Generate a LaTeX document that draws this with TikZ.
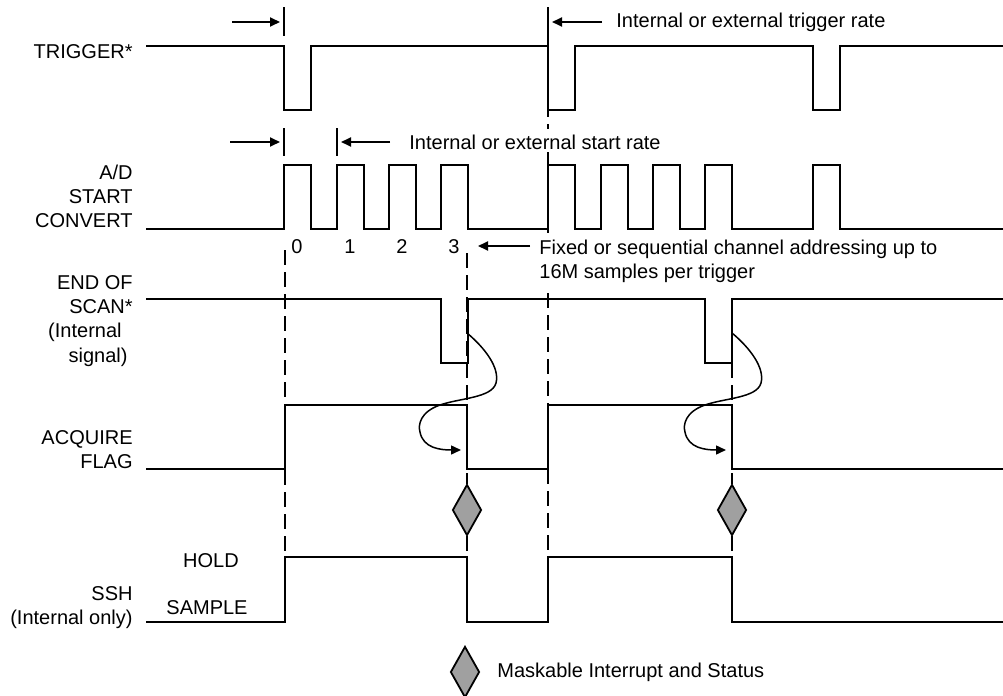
\documentclass[tikz,border=0pt]{standalone}
\usepackage{fontspec}
\setmainfont{Liberation Sans}
\usetikzlibrary{
  arrows.meta,
  shapes.geometric
}
\definecolor{irqGray}{HTML}{A0A0A0}

\begin{document}
\begin{tikzpicture}[x=0.5pt, y=-0.5pt,
  font=\fontsize{10}{12}\selectfont,
  sig/.style={line width=1pt, line join=miter},
  guide/.style={line width=0.75pt, dash pattern=on 7.5pt off 3.5pt},
  tickmark/.style={line width=0.9pt},
  rate/.style={line width=0.9pt, -{Triangle[length=5pt, width=4.5pt]}},
  hook/.style={line width=0.75pt, -{Triangle[length=5pt, width=4.5pt]}},
  irqmark/.style={diamond, draw, line width=0.9pt, fill=irqGray,
    minimum width=14.5pt, minimum height=25.5pt, inner sep=0pt},
  signame/.style={anchor=east, align=right, inner sep=0pt},
  note/.style={anchor=west, align=left, inner sep=0pt}
]
  \useasboundingbox (0,0) rectangle (1003,696);

  %% --- Interrupt markers ---
  \node[irqmark] (irq1) at (467,510) {};
  \node[irqmark] (irq2) at (732,510) {};

  %% --- Dashed guide lines ---
  \draw[guide] (285,250) -- (285,557);
  \draw[guide] (548,36) -- (548,129);
  \draw[guide] (548,152) -- (548,238);
  \draw[guide] (548,293) -- (548,557);
  \draw[guide] (467,253) -- (irq1.north);
  \draw[guide] (irq1.south) -- (467,557);
  \draw[guide] (732,363) -- (irq2.north);
  \draw[guide] (irq2.south) -- (732,557);

  %% --- Signal names ---
  \node[signame] (trg) at (133,52) {TRIGGER*};
  \node[signame] (adc) at (133,196) {A/D\\START\\CONVERT};
  \node[signame] (eos) at (133,295) {END OF\\SCAN*};
  \node[signame] (eosA) at (122,332) {(Internal};
  \node[signame] (eosB) at (128,357) {signal)};
  \node[signame] (acq) at (133,450) {ACQUIRE\\FLAG};
  \node[signame] (ssh) at (133,608) {SSH\\(Internal only)};
  \node (hold) at (211,561) {HOLD};
  \node (sample) at (207,608) {SAMPLE};

  %% --- Waveforms ---
  \draw[sig] (146,46) \foreach \x in {284,548,813} {
      -- (\x,46) -- (\x,110) -- (\x+27,110) -- (\x+27,46) } -- (1003,46);
  \draw[sig] (146,229) \foreach \x in {284,337,389,441,548,601,653,705,813} {
      -- (\x,229) -- (\x,165) -- (\x+27,165) -- (\x+27,229) } -- (1003,229);
  \draw[sig] (146,299) \foreach \x in {441,705} {
      -- (\x,299) -- (\x,363) -- (\x+27,363) -- (\x+27,299) } -- (1003,299);
  \draw[sig] (146,469) -- (285,469) -- (285,405) -- (467,405) -- (467,469)
    -- (548,469) -- (548,405) -- (732,405) -- (732,469) -- (1003,469);
  \draw[sig] (146,622) -- (285,622) -- (285,557) -- (467,557) -- (467,622)
    -- (548,622) -- (548,557) -- (732,557) -- (732,622) -- (1003,622);

  %% --- Rate markers ---
  \draw[tickmark] (284,7) -- (284,36);
  \draw[tickmark] (548,7) -- (548,46);
  \draw[tickmark] (284,128) -- (284,156);
  \draw[tickmark] (337,128) -- (337,156);

  \coordinate (trgFrom) at (232,22);  \coordinate (trgTo) at (280,22);
  \coordinate (trgFrom2) at (602,22); \coordinate (trgTo2) at (552,22);
  \coordinate (adcFrom) at (230,142); \coordinate (adcTo) at (280,142);
  \coordinate (adcFrom2) at (390,142); \coordinate (adcTo2) at (341,142);
  \coordinate (chFrom) at (530,246);  \coordinate (chTo) at (478,246);
  \draw[rate] (trgFrom) -- (trgTo);
  \draw[rate] (trgFrom2) -- (trgTo2);
  \draw[rate] (adcFrom) -- (adcTo);
  \draw[rate] (adcFrom2) -- (adcTo2);
  \draw[rate] (chFrom) -- (chTo);

  \node[note] (trgRate) at (616,22) {Internal or external trigger rate};
  \node[note] (adcRate) at (409,142) {Internal or external start rate};
  \node[note] (chRate) at (539,261)
    {Fixed or sequential channel addressing up to\\16M samples per trigger};

  %% --- Channel numbers ---
  \foreach \i/\x in {0/297,1/350,2/402,3/454}
    \node (num\i) at (\x,247) {\i};

  %% --- End of scan clears the acquire flag ---
  \foreach \s in {0,265} {
    \coordinate (eosUp) at (467+\s,333);
    \coordinate (acqDown) at (461+\s,450);
    \draw[hook] (eosUp) .. controls (485+\s,348) and (500+\s,368) .. (496+\s,383)
      .. controls (492+\s,398) and (460+\s,398) .. (440+\s,405)
      .. controls (420+\s,412) and (418+\s,425) .. (420+\s,432)
      .. controls (423+\s,448) and (440+\s,450) .. (acqDown);
  }

  %% --- Legend ---
  \node[irqmark] (irqkey) at (465,672) {};
  \node[note] (irqtext) at (497,672) {Maskable Interrupt and Status};
\end{tikzpicture}
\end{document}
